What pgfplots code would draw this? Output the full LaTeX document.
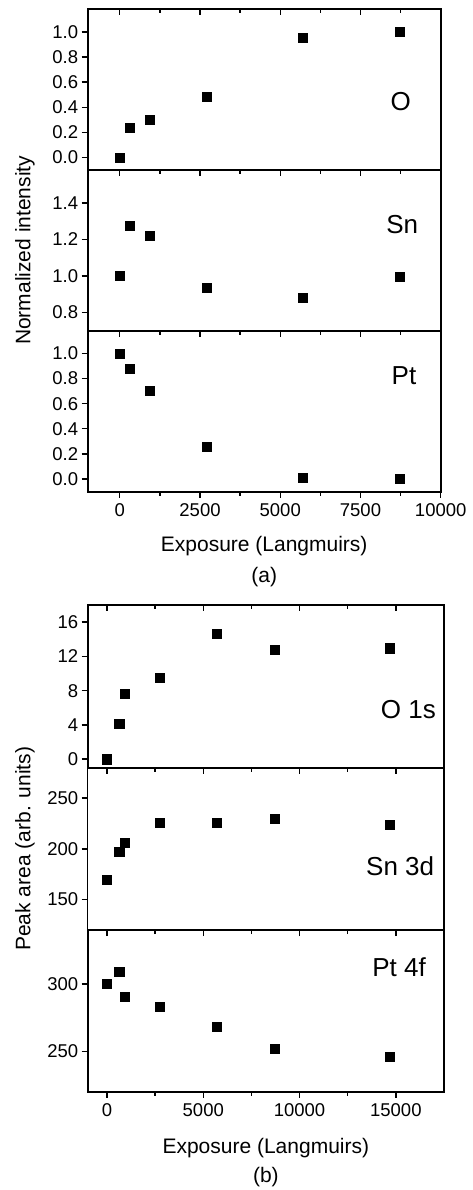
\documentclass[border=0pt]{standalone}
\usepackage{fontspec}
\setmainfont{Liberation Sans}
\usepackage{pgfplots}
\pgfplotsset{compat=1.18}
\tikzset{plab/.style={font=\fontsize{26}{30}\selectfont, anchor=center}}
\pgfplotsset{
  common/.style={
    scale only axis, clip=false,
    tick align=outside, xtick pos=bottom, ytick pos=left,
    axis line style={line width=1.6pt},
    every tick/.style={line width=1.3pt, black},
    major tick length=6pt, minor tick length=4pt,
    minor x tick num=1,
    scaled x ticks=false, scaled y ticks=false,
    tick label style={font=\fontsize{18.5}{20}\selectfont},
    xticklabel style={yshift=-2pt},
    label style={font=\fontsize{21}{24}\selectfont},
    /pgf/number format/assume math mode=true,
    /pgf/number format/set thousands separator={},
  },
  panelA/.style={common, width=353pt, xmin=-1000, xmax=10000,
    xtick={0,2500,5000,7500,10000},
    yticklabel style={/pgf/number format/.cd, fixed, fixed zerofill, precision=1}},
  panelB/.style={common, width=356.3pt, xmin=-1000, xmax=17500,
    xtick={0,5000,10000,15000}},
  pts/.style={only marks, mark=square*, mark size=4.6pt, mark options={draw=black, fill=black, line width=0.4pt}},
}
\begin{document}
\begin{tikzpicture}
\useasboundingbox (0pt,0pt) rectangle (472pt,-1190pt);
% ---------- (a) ----------
\begin{axis}[panelA, at={(87.7pt,-9.3pt)}, anchor=north west, height=160.7pt,
  ymin=-0.1, ymax=1.18, ytick={0,0.2,0.4,0.6,0.8,1.0}, xticklabels={}]
\addplot[pts] coordinates {(0,0.0) (310,0.238) (920,0.30) (2710,0.487) (5710,0.952) (8710,1.0)};
\node[plab] at (rel axis cs:0.887,0.425) {O};
\end{axis}
\begin{axis}[panelA, at={(87.7pt,-9.3pt)}, anchor=north west, height=160.7pt,
  ymin=-0.1, ymax=1.18, ytick=\empty, xtick pos=top, tick align=inside, xticklabels={}]
\end{axis}
\begin{axis}[panelA, at={(87.7pt,-170pt)}, anchor=north west, height=160.7pt,
  ymin=0.7, ymax=1.58, ytick={0.8,1.0,1.2,1.4}, xticklabels={},
  ylabel={Normalized intensity},
  ylabel style={at={(axis description cs:-0.1776,0.5)}, anchor=center}]
\addplot[pts] coordinates {(0,1.0) (310,1.277) (920,1.222) (2710,0.935) (5710,0.882) (8710,0.997)};
\node[plab] at (rel axis cs:0.891,0.662) {Sn};
\end{axis}
\begin{axis}[panelA, at={(87.7pt,-330.7pt)}, anchor=north west, height=161pt,
  ymin=-0.1, ymax=1.18, ytick={0,0.2,0.4,0.6,0.8,1.0},
  xlabel={Exposure (Langmuirs)},
  xlabel style={at={(axis description cs:0.5,-0.335)}, anchor=center}]
\addplot[pts] coordinates {(0,1.0) (310,0.875) (920,0.703) (2710,0.256) (5710,0.013) (8710,0.005)};
\node[plab] at (rel axis cs:0.896,0.72) {Pt};
\node[font=\fontsize{21}{24}\selectfont, anchor=center] at (axis description cs:0.5,-0.528) {(a)};
\end{axis}
% ---------- (b) ----------
\begin{axis}[panelB, at={(87.7pt,-605pt)}, anchor=north west, height=162.7pt,
  ymin=-1, ymax=18, ytick={0,4,8,12,16}, xticklabels={}]
\addplot[pts] coordinates {(0,0) (640,4.14) (910,7.61) (2720,9.48) (5710,14.64) (8720,12.76) (14700,12.96)};
\node[plab] at (rel axis cs:0.90,0.359) {O 1s};
\end{axis}
\begin{axis}[panelB, at={(87.7pt,-605pt)}, anchor=north west, height=162.7pt,
  ymin=-1, ymax=18, ytick=\empty, xtick pos=top, tick align=inside, xticklabels={}]
\end{axis}
\begin{axis}[panelB, at={(87.7pt,-767.7pt)}, anchor=north west, height=162.3pt,
  ymin=120, ymax=280, ytick={150,200,250}, xticklabels={},
  ylabel={Peak area (arb. units)},
  ylabel style={at={(axis description cs:-0.176,0.5)}, anchor=center}]
\addplot[pts] coordinates {(0,169.7) (640,196.9) (910,206.1) (2720,225.8) (5710,225.8) (8720,230) (14700,223.8)};
\node[plab] at (rel axis cs:0.877,0.394) {Sn 3d};
\end{axis}
\begin{axis}[panelB, at={(87.7pt,-930pt)}, anchor=north west, height=161.7pt,
  ymin=220, ymax=340, ytick={250,300},
  xlabel={Exposure (Langmuirs)},
  xlabel style={at={(axis description cs:0.5,-0.348)}, anchor=center}]
\addplot[pts] coordinates {(0,300) (640,309.3) (910,290.4) (2720,283.2) (5710,268.1) (8720,252) (14700,246.1)};
\node[plab] at (rel axis cs:0.874,0.769) {Pt 4f};
\node[font=\fontsize{21}{24}\selectfont, anchor=center] at (axis description cs:0.5,-0.528) {(b)};
\end{axis}
\end{tikzpicture}
\end{document}
